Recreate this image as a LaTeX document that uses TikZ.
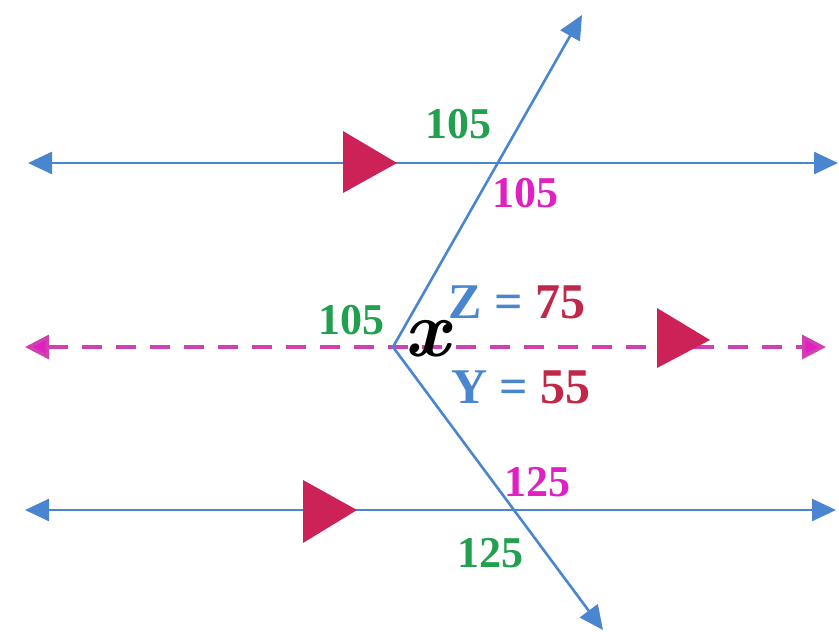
\documentclass[tikz,border=0pt]{standalone}
\usepackage{fontspec}
\setmainfont{Liberation Serif}
\newfontfamily\lmfont{Latin Modern Roman}
\usetikzlibrary{arrows.meta}
\definecolor{lblue}{HTML}{4A86D0}
\definecolor{crim}{HTML}{CC2258}
\definecolor{mag}{HTML}{E020C0}
\definecolor{dmag}{HTML}{D040B0}
\definecolor{grn}{HTML}{22A050}
\definecolor{red2}{HTML}{C0284A}
\tikzset{
  bline/.style={draw=lblue, line width=2.6pt, {Triangle[length=24pt,width=22pt]}-{Triangle[length=24pt,width=22pt]}},
  ray/.style={draw=lblue, line width=2.6pt, -{Triangle[length=24pt,width=22pt]}},
  dline/.style={draw=dmag, line width=3.5pt, dash pattern=on 20pt off 14pt, {Triangle[length=24pt,width=24pt,fill=mag]}-{Triangle[length=24pt,width=24pt,fill=mag]}},
  tri/.style={fill=crim},
  num/.style={font=\fontsize{44}{48}\selectfont\bfseries, inner sep=0pt},
  eq/.style={font=\fontsize{50}{54}\selectfont\bfseries, inner sep=0pt},
  xs/.style={font=\lmfont\fontsize{80}{84}\selectfont\bfseries\itshape, inner sep=0pt}
}
\begin{document}
\begin{tikzpicture}[x=1pt,y=-1pt]
\useasboundingbox (0,0) rectangle (839,632);
% end points
\coordinate (tl) at (28,163);
\coordinate (tr) at (838,163);
\coordinate (ml) at (25,347);
\coordinate (mr) at (826,347);
\coordinate (bl) at (25,510);
\coordinate (br) at (836,510);
\coordinate (v) at (393,347);
\coordinate (up) at (582,15);
\coordinate (dn) at (603,630);
% lines
\draw[bline] (tl) -- (tr);
\draw[bline] (bl) -- (br);
\draw[dline] (ml) -- (mr);
\draw[ray] (v) -- (up);
\draw[ray] (v) -- (dn);
% parallel markers
\fill[tri] (343,131) -- (397,163) -- (343,193) -- cycle;
\fill[tri] (657,308) -- (710,340) -- (657,368) -- cycle;
\fill[tri] (303,480) -- (357,510) -- (303,543) -- cycle;
% labels
\node[num, text=grn] (a1) at (458,124) {105};
\node[num, text=mag] (a2) at (525,193) {105};
\node[num, text=grn] (a3) at (351,320) {105};
\node[num, text=mag] (a4) at (537,482) {125};
\node[num, text=grn] (a5) at (490,553) {125};
\node[eq] (zlab) at (517,302) {\textcolor{lblue}{Z = }\textcolor{red2}{75}};
\node[eq] (ylab) at (521,387) {\textcolor{lblue}{Y = }\textcolor{red2}{55}};
\node[xs] (xlab) at (427,339) {x};
\end{tikzpicture}
\end{document}
